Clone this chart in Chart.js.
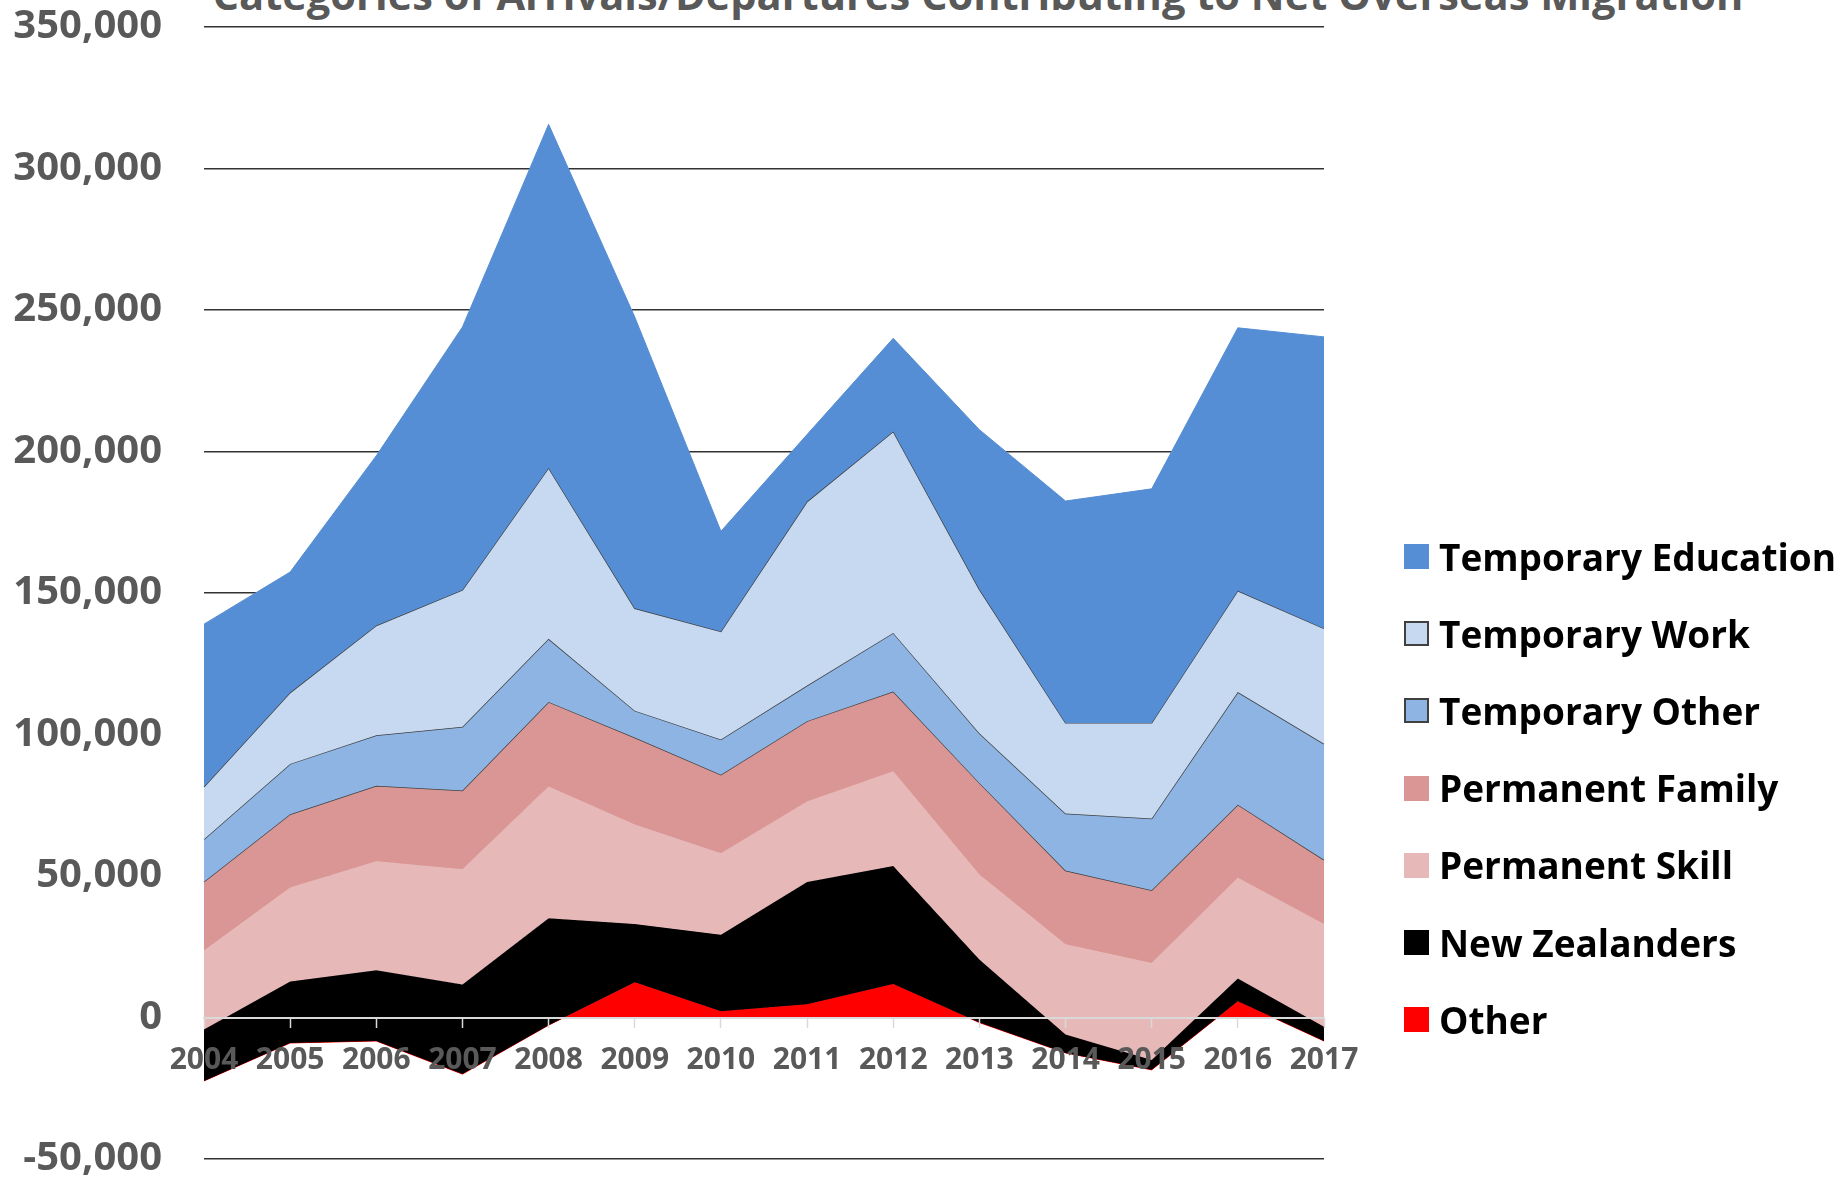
<!DOCTYPE html>
<html>
<head>
<meta charset="utf-8">
<script src="https://cdn.jsdelivr.net/npm/chart.js@4.4.1/dist/chart.umd.min.js"></script>
<style>
  html, body { margin:0; padding:0; background:#fff; width:1847px; height:1182px; overflow:hidden; position:relative; font-family:'Open Sans', sans-serif; }
  #chart { position:absolute; left:0; top:0; }
  #title { position:absolute; left:-22px; top:-26px; width:2000px; text-align:center; font-weight:700; font-size:41.6px; line-height:41px; color:#595959; white-space:nowrap; }
  #legend { position:absolute; left:1404px; top:518px; }
  .item { height:77.2px; display:flex; align-items:center; }
  .sw { width:25px; height:25px; box-sizing:border-box; margin-right:10px; flex:none; }
  .lbl { font-weight:700; font-size:37px; line-height:38px; color:#000; white-space:nowrap; }
</style>
</head>
<body>
<div id="title">Categories of Arrivals/Departures Contributing to Net Overseas Migration</div>
<canvas id="chart" width="1847" height="1182"></canvas>
<div id="legend"></div>
<script>
// ---- data ----
const years = ['2004','2005','2006','2007','2008','2009','2010','2011','2012','2013','2014','2015','2016','2017'];
const other              = [-22400, -9000, -8300, -20000, -2700, 12500, 2200, 4700, 11800, -1800, -12500, -18500, 5700, -8300];
const newZealanders      = [18200, 21700, 25000, 31700, 37800, 20500, 27000, 43200, 41700, 22300, 6500, 3500, 8100, 5000];
const permanentSkill     = [27900, 33200, 38500, 40700, 46500, 35200, 28800, 28400, 33500, 30000, 31900, 34300, 35600, 36300];
const permanentFamily    = [24300, 25900, 26700, 27800, 29900, 30700, 27800, 28400, 28200, 32400, 26000, 25700, 25800, 22700];
const temporaryOther     = [15000, 17800, 17800, 22500, 22300, 9500, 12400, 12600, 20700, 17500, 20200, 25300, 39800, 41000];
const temporaryWork      = [18500, 25200, 38800, 48400, 60400, 36200, 38200, 65000, 71200, 50900, 32000, 33800, 35800, 40800];
const temporaryEducation = [57500, 42600, 60000, 92900, 121400, 102900, 35400, 23700, 32900, 56400, 78400, 82700, 92900, 103000];
const seriesNames = ['Other','New Zealanders','Permanent Skill','Permanent Family','Temporary Other','Temporary Work','Temporary Education'];
const yTicksMin = -50000, yTicksMax = 350000, yTickStep = 50000;

// ---- styles ----
const fills   = ['#ff0000','#000000','#e6b9b8','#d99694','#8eb4e3','#c6d9f1','#558ed5'];
const outline = [false, false, false, true, true, true, false];
const legendBorder = [false, false, false, false, true, true, false];

// Excel-style stacked area: running totals across all series (positive and negative together)
const seriesValues = [other, newZealanders, permanentSkill, permanentFamily, temporaryOther, temporaryWork, temporaryEducation];
const running = years.map(() => 0);
const datasets = seriesValues.map((vals, i) => {
  const cum = vals.map((v, j) => (running[j] += v));
  return {
    label: seriesNames[i],
    data: cum.slice(),
    backgroundColor: fills[i],
    borderColor: outline[i] ? '#404040' : fills[i],
    borderWidth: outline[i] ? 1.4 : 1,
    pointRadius: 0,
    pointHoverRadius: 0,
    tension: 0,
    fill: i === 0 ? 'origin' : '-1',
    order: seriesValues.length - 1 - i
  };
});

function build() {
  const chart = new Chart(document.getElementById('chart'), {
    type: 'line',
    data: { labels: years, datasets },
    options: {
      responsive: false,
      devicePixelRatio: 1,
      animation: false,
      layout: { padding: { top: 27, bottom: 23, left: 0, right: 523 } },
      plugins: {
        legend: { display: false },
        tooltip: { enabled: false },
        title: { display: false },
        filler: { propagate: false }
      },
      scales: {
        y: {
          min: yTicksMin, max: yTicksMax,
          ticks: {
            stepSize: yTickStep,
            color: '#595959',
            font: { family: 'Open Sans', weight: 'bold', size: 40, lineHeight: 1 },
            padding: 0,
            callback: v => Number(v).toLocaleString('en-US')
          },
          grid: { color: '#333333', lineWidth: 1.6, drawTicks: true, tickLength: 42, tickColor: 'rgba(0,0,0,0)' },
          border: { display: false },
          afterFit: s => { s.width = 204; }
        },
        x: {
          position: { y: 0 },
          offset: false,
          grid: { display: true, z: 1, drawOnChartArea: false, drawTicks: true, tickLength: 9, color: '#d9d9d9', tickColor: '#d9d9d9', tickWidth: 1.5, offset: false },
          border: { display: true, z: 1, color: '#d9d9d9', width: 2 },
          ticks: {
            z: 1,
            color: '#595959',
            font: { family: 'Open Sans', weight: 'bold', size: 30 },
            padding: 16,
            maxRotation: 0,
            autoSkip: false
          }
        }
      }
    }
  });

  // legend built from the chart's datasets (top series first)
  const lg = document.getElementById('legend');
  for (let i = chart.data.datasets.length - 1; i >= 0; i--) {
    const ds = chart.data.datasets[i];
    const row = document.createElement('div');
    row.className = 'item';
    const sw = document.createElement('div');
    sw.className = 'sw';
    sw.style.background = ds.backgroundColor;
    if (legendBorder[i]) sw.style.border = '2px solid #404040';
    const tx = document.createElement('span');
    tx.className = 'lbl';
    tx.textContent = ds.label;
    row.appendChild(sw);
    row.appendChild(tx);
    lg.appendChild(row);
  }
}

if (document.fonts && document.fonts.load) {
  document.fonts.load('700 40px "Open Sans"').then(build, build);
} else {
  build();
}
</script>
</body>
</html>
